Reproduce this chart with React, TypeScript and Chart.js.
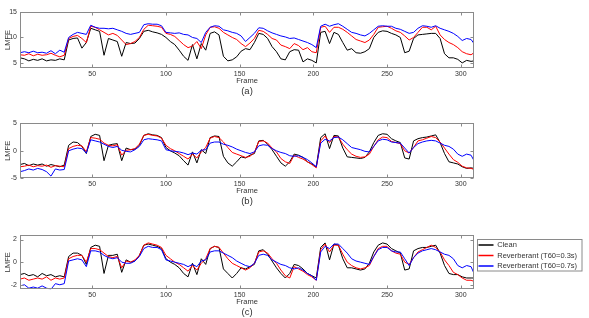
import { useEffect, useRef } from 'react';
import { Chart, registerables } from 'chart.js';

Chart.register(...registerables);

const FONT = "'Liberation Sans', Arial, sans-serif";
const TEXT = '#333333';
const BOX = '#8a8a8a';

const FRAMES = [
  1, 4, 7, 10, 13, 16, 19, 22, 25, 28, 31,
  34, 37, 40, 43, 46, 49, 52, 55, 58, 61,
  64, 67, 70, 73, 76, 79, 82, 85, 88, 91,
  94, 97, 100, 103, 106, 109, 112, 115, 118, 121,
  124, 127, 130, 133, 136, 139, 142, 145, 148, 151,
  154, 157, 160, 163, 166, 169, 172, 175, 178, 181,
  184, 187, 190, 193, 196, 199, 202, 205, 208, 211,
  214, 217, 220, 223, 226, 229, 232, 235, 238, 241,
  244, 247, 250, 253, 256, 259, 262, 265, 268, 271,
  274, 277, 280, 283, 286, 289, 292, 295, 298, 301,
  304, 307, 309,
];

const X_TICKS = [50, 100, 150, 200, 250, 300];
const SERIES_NAMES = ['Clean', 'Reverberant (T60=0.3s)', 'Reverberant (T60=0.7s)'];
const SERIES_COLORS = ['#000000', '#ff0000', '#0000ff'];
const PANEL_LABELS = ['(a)', '(b)', '(c)'];

// ---- panel (a) ----
const A_CLEAN = [
  6.0, 5.8, 5.4, 5.7, 5.5, 5.8, 5.4, 5.6, 5.5, 5.8, 5.6,
  9.5, 9.8, 9.9, 7.9, 9.0, 11.8, 11.5, 11.2, 6.5, 9.8,
  9.5, 9.2, 6.3, 9.0, 8.8, 8.9, 9.8, 11.2, 11.4, 11.1,
  10.9, 10.6, 10.0, 9.2, 8.6, 7.5, 6.3, 5.5, 8.6, 5.8,
  8.8, 7.5, 10.8, 11.1, 10.5, 6.3, 5.4, 5.6, 6.2, 7.3,
  7.8, 7.6, 9.0, 10.8, 10.6, 9.8, 8.2, 7.2, 5.8, 5.6,
  7.2, 7.6, 7.5, 5.2, 5.8, 5.5, 5.0, 11.0, 11.2, 8.8,
  11.0, 10.6, 9.0, 7.5, 7.8, 7.0, 6.9, 7.2, 7.8, 10.0,
  11.0, 11.3, 11.2, 10.8, 10.5, 10.0, 7.0, 7.3, 9.8, 10.5,
  10.6, 10.7, 10.8, 10.8, 9.8, 6.8, 6.0, 6.0, 5.7, 5.0,
  5.5, 5.3, 5.4,
];
const A_T03 = [
  6.6, 6.5, 6.8, 6.4, 6.7, 6.5, 6.6, 6.9, 6.5, 6.2, 6.5,
  9.8, 10.2, 10.4, 9.8, 9.0, 12.2, 12.0, 11.5, 11.0, 10.5,
  10.8, 10.4, 9.5, 8.6, 8.8, 9.2, 10.0, 11.6, 12.4, 12.3,
  12.2, 12.0, 10.8, 10.6, 10.2, 9.4, 8.6, 8.0, 8.3, 9.2,
  7.8, 10.5, 12.0, 12.1, 11.8, 11.0, 10.5, 10.0, 9.6, 8.8,
  8.2, 8.9, 9.8, 11.4, 11.2, 10.6, 9.8, 9.5, 8.5, 8.2,
  7.8, 8.8, 8.4, 7.6, 8.0, 7.2, 7.0, 12.0, 12.2, 11.0,
  12.0, 12.0, 11.6, 11.0, 10.3, 9.6, 9.3, 9.0, 9.5, 10.6,
  12.0, 12.1, 12.2, 11.8, 11.3, 11.0, 10.3, 9.5, 10.0, 11.0,
  12.0, 12.0, 11.5, 12.2, 10.5, 9.6, 9.0, 8.6, 8.0, 7.2,
  6.8, 6.6, 7.0,
];
const A_T07 = [
  7.0, 7.2, 7.0, 7.3, 7.0, 7.1, 6.9, 7.4, 6.8, 7.5, 7.1,
  10.0, 10.6, 11.0, 10.8, 10.6, 12.4, 12.0, 11.8, 11.8, 11.7,
  11.8, 11.5, 11.2, 10.8, 10.6, 10.8, 11.0, 12.5, 12.7, 12.6,
  12.6, 12.3, 11.0, 10.9, 10.8, 10.9, 10.6, 10.5, 10.0, 9.8,
  9.0, 11.0, 12.0, 12.3, 12.2, 11.5, 11.3, 11.0, 10.8, 10.3,
  9.2, 10.0, 10.8, 11.9, 11.8, 11.3, 10.9, 10.6, 10.3, 10.1,
  9.8, 9.9, 9.6, 9.3, 9.0, 8.6, 8.0, 12.2, 12.6, 12.2,
  12.5, 12.7, 12.2, 11.6, 11.0, 10.8, 10.5, 10.3, 10.8, 11.5,
  12.2, 12.3, 12.2, 12.2, 11.8, 11.6, 11.2, 10.8, 11.0, 11.8,
  12.3, 12.2, 12.0, 12.3, 11.8, 11.5, 11.2, 10.8, 10.2, 9.4,
  9.8, 9.6, 8.8,
];

// ---- panel (b) ----
const B_CLEAN = [
  -2.5, -2.3, -2.7, -2.4, -2.6, -2.4, -2.8, -2.5, -2.7, -2.9, -2.6,
  1.0, 1.6, 1.5, 0.8, -0.5, 2.6, 3.0, 2.8, -1.8, 1.0,
  1.2, 1.3, -1.8, 0.5, 0.2, 0.3, 1.0, 2.8, 3.1, 2.9,
  2.8, 2.4, 0.6, 0.0, -0.4, -0.9, -1.8, -2.6, -0.2, -2.2,
  0.2, -0.5, 2.4, 2.7, 2.6, -1.0, -2.2, -2.8, -2.0, -1.1,
  -1.3, -0.8, -0.5, 1.8, 1.9, 1.2, 0.2, -1.0, -2.2, -2.8,
  -2.0, -0.6, -0.8, -1.2, -2.0, -2.4, -2.9, 2.4, 3.1, 0.4,
  2.8, 2.7, 0.5, -1.1, -1.2, -1.3, -1.4, -1.2, -0.2, 1.5,
  2.8, 3.1, 3.0, 2.2, 1.8, 1.5, -1.3, -1.5, 1.8, 2.2,
  2.4, 2.5, 2.7, 2.9, 1.5, -0.5, -2.0, -2.2, -2.4, -2.9,
  -3.2, -3.1, -3.2,
];
const B_T03 = [
  -2.9, -2.8, -2.6, -2.9, -2.7, -2.8, -2.6, -3.0, -2.7, -2.8, -2.9,
  0.4, 0.8, 1.0, 0.9, -0.2, 2.4, 2.3, 2.1, 1.4, 1.0,
  0.9, 1.1, -0.8, 0.1, 0.2, 0.4, 1.2, 2.8, 3.0, 2.8,
  2.7, 2.3, 1.0, 0.4, 0.0, -0.5, -1.0, -1.5, -0.6, -1.3,
  -0.2, 0.6, 2.3, 2.6, 2.4, 1.6, 0.6, -0.3, -0.6, -0.9,
  -1.2, -1.0, -0.3, 1.7, 1.8, 1.4, 0.5, -0.2, -1.4, -2.0,
  -2.3, -0.8, -1.2, -1.5, -2.0, -2.5, -3.1, 1.8, 2.7, 1.5,
  2.6, 2.5, 1.2, 0.2, -0.6, -1.0, -1.2, -1.1, -0.6, 0.8,
  2.0, 2.5, 2.4, 1.7, 1.5, 1.3, 0.0, -0.4, 0.6, 1.8,
  2.0, 2.3, 2.6, 2.4, 1.6, 0.5, -0.6, -1.6, -2.1, -2.8,
  -3.1, -3.2, -3.4,
];
const B_T07 = [
  -3.8, -3.6, -3.3, -3.5, -3.2, -3.4, -3.8, -4.6, -3.3, -3.5, -3.4,
  0.0, 0.3, 0.5, 0.4, -0.4, 2.0, 1.8, 1.6, 1.2, 0.8,
  0.6, 0.8, 0.1, -0.1, -0.2, 0.2, 0.8, 2.0, 2.2, 2.1,
  2.0, 1.8, 0.2, 0.0, -0.1, -0.2, -0.4, -0.7, -0.4, -0.6,
  0.1, 0.2, 1.4, 1.6, 1.6, 1.2, 1.0, 0.7, 0.3, 0.0,
  -0.3, -0.5, -0.2, 0.9, 1.1, 1.0, 0.4, 0.0, -0.3, -0.5,
  -0.9, -1.0, -0.9, -1.2, -1.6, -2.2, -2.9, 1.4, 2.1, 1.8,
  2.4, 2.5, 2.0, 1.3, 0.6, 0.4, 0.2, -0.1, -0.2, 0.8,
  1.8, 2.1, 2.0, 1.6, 1.5, 1.4, 0.5, -0.4, 0.6, 1.3,
  1.6, 1.8, 1.9, 1.8, 1.4, 1.0, 0.8, 0.3, -0.6, -1.0,
  -0.6, -0.8, -1.8,
];

// ---- panel (c) ----
const C_CLEAN = [
  -1.1, -1.0, -1.2, -1.1, -1.3, -1.0, -1.2, -1.1, -1.3, -1.2, -1.3,
  0.5, 0.8, 0.8, 0.6, -0.2, 1.3, 1.5, 1.4, -1.0, 0.6,
  0.6, 0.7, -0.9, 0.2, 0.0, 0.1, 0.6, 1.5, 1.6, 1.5,
  1.4, 1.2, 0.3, 0.0, -0.2, -0.5, -1.0, -1.3, -0.1, -1.1,
  0.3, -0.2, 1.2, 1.4, 1.3, -0.6, -1.0, -1.4, -1.0, -0.5,
  -0.6, -0.4, -0.2, 1.0, 1.1, 0.7, 0.1, -0.5, -1.0, -1.4,
  -1.0, -0.2, -0.3, -0.6, -1.0, -1.2, -1.4, 1.3, 1.7, 0.2,
  1.6, 1.5, 0.3, -0.5, -0.5, -0.6, -0.7, -0.6, -0.1, 0.9,
  1.5, 1.7, 1.6, 1.2, 1.0, 0.8, -0.7, -0.6, 1.0, 1.2,
  1.3, 1.3, 1.4, 1.5, 0.8, -0.3, -1.0, -1.1, -1.1, -1.3,
  -1.4, -1.4, -1.4,
];
const C_T03 = [
  -1.5, -1.4, -1.6, -1.5, -1.4, -1.5, -1.3, -1.6, -1.4, -1.5, -1.4,
  0.3, 0.5, 0.6, 0.6, 0.0, 1.2, 1.2, 1.1, 0.8, 0.5,
  0.4, 0.5, -0.5, 0.1, 0.0, 0.2, 0.6, 1.5, 1.7, 1.6,
  1.5, 1.3, 0.6, 0.3, 0.0, -0.2, -0.5, -0.8, -0.3, -0.7,
  -0.1, 0.3, 1.2, 1.4, 1.3, 0.8, 0.3, -0.1, -0.3, -0.5,
  -0.7, -0.5, -0.1, 0.9, 1.0, 0.8, 0.3, -0.1, -0.7, -1.2,
  -1.4, -0.4, -0.6, -0.8, -1.1, -1.3, -1.6, 1.1, 1.6, 0.9,
  1.5, 1.5, 0.7, 0.0, -0.3, -0.5, -0.6, -0.5, -0.3, 0.5,
  1.2, 1.4, 1.4, 1.0, 0.8, 0.7, 0.0, -0.2, 0.4, 0.9,
  1.1, 1.3, 1.5, 1.3, 0.9, 0.2, -0.3, -0.9, -1.1, -1.4,
  -1.6, -1.6, -1.7,
];
const C_T07 = [
  -2.1, -2.0, -2.3, -2.2, -2.3, -2.1, -2.3, -2.4, -1.9, -2.0, -1.9,
  0.1, 0.2, 0.3, 0.2, -0.4, 1.0, 1.0, 0.9, 0.6, 0.4,
  0.3, 0.4, 0.0, -0.1, -0.1, 0.1, 0.5, 1.2, 1.4, 1.3,
  1.3, 1.1, 0.2, 0.1, 0.0, -0.1, -0.2, -0.4, -0.2, -0.4,
  0.1, 0.2, 0.9, 1.0, 1.0, 0.8, 0.6, 0.4, 0.1, -0.1,
  -0.3, -0.4, -0.1, 0.6, 0.7, 0.6, 0.2, 0.0, -0.2, -0.3,
  -0.5, -0.6, -0.5, -0.7, -1.0, -1.2, -1.6, 0.9, 1.4, 1.2,
  1.6, 1.6, 1.2, 0.8, 0.3, 0.1, 0.0, -0.1, -0.2, 0.5,
  1.1, 1.3, 1.3, 1.0, 0.9, 0.9, 0.3, -0.3, 0.4, 0.8,
  1.0, 1.1, 1.2, 1.1, 0.9, 0.7, 0.6, 0.3, -0.3, -0.5,
  -0.3, -0.4, -1.0,
];

const A_Y_TICKS = [5, 10, 15];
const B_Y_TICKS = [-5, 0, 5];
const C_Y_TICKS = [-2, 0, 2];

const boxPlugin = {
  id: 'matlabBox',
  afterLayout(chart: any) {
    const lg = chart.legend;
    if (!lg || !chart.options.plugins.legend.display) return;
    lg.left = 475.5;
    lg.top = 19.3;
    lg.width = 110;
    lg.height = 40;
    lg.right = lg.left + 110;
    lg.bottom = lg.top + 40;
  },
  afterDraw(chart: any) {
    const { ctx, chartArea: a, scales } = chart;
    ctx.save();
    ctx.strokeStyle = BOX;
    ctx.lineWidth = 1;
    const l = Math.round(a.left) + 0.5;
    const r = Math.round(a.right) - 0.5;
    const t = Math.round(a.top) + 0.5;
    const b = Math.round(a.bottom) - 0.5;
    ctx.strokeRect(l, t, r - l, b - t);
    ctx.beginPath();
    scales.x.ticks.forEach((tk: any) => {
      const x = Math.round(scales.x.getPixelForValue(tk.value)) + 0.5;
      ctx.moveTo(x, b);
      ctx.lineTo(x, b - 3);
      ctx.moveTo(x, t);
      ctx.lineTo(x, t + 3);
    });
    scales.y.ticks.forEach((tk: any) => {
      const y = Math.round(scales.y.getPixelForValue(tk.value)) + 0.5;
      ctx.moveTo(l, y);
      ctx.lineTo(l + 3, y);
      ctx.moveTo(r, y);
      ctx.lineTo(r - 3, y);
    });
    ctx.stroke();
    if (chart.options.plugins.legend.display) {
      ctx.strokeRect(477.5, 20.5, 104.5, 31.5);
    }
    ctx.restore();
  },
};

type PanelProps = {
  top: number;
  height: number;
  plotTop: number;
  plotBottom: number;
  yMin: number;
  yMax: number;
  yTicks: number[];
  series: number[][];
  label: string;
  legend?: boolean;
};

function Panel(p: PanelProps) {
  const ref = useRef<HTMLCanvasElement>(null);
  useEffect(() => {
    const canvas = ref.current;
    if (!canvas) return;
    const titleTop = p.height - 12;
    const chart = new Chart(canvas, {
      type: 'line',
      data: {
        datasets: p.series.map((vals, i) => ({
          label: SERIES_NAMES[i],
          data: vals.map((v, j) => ({ x: FRAMES[j], y: v })),
          borderColor: SERIES_COLORS[i],
          backgroundColor: SERIES_COLORS[i],
          borderWidth: 1,
          pointRadius: 0,
          tension: 0,
          order: 3 - i,
        })),
      },
      options: {
        responsive: false,
        animation: false,
        devicePixelRatio: 1,
        events: [],
        layout: { padding: { left: 0, right: 589 - 474, top: p.plotTop, bottom: 0 } },
        scales: {
          x: {
            type: 'linear',
            min: 1,
            max: 309,
            grid: { display: false, drawTicks: false, tickLength: 0 },
            border: { display: false },
            ticks: { font: { size: 7, family: FONT }, color: TEXT, padding: 2, maxRotation: 0 },
            afterBuildTicks: (s: any) => {
              s.ticks = X_TICKS.map((v) => ({ value: v }));
            },
            afterFit: (s: any) => {
              s.height = titleTop - p.plotBottom;
            },
            title: {
              display: true,
              text: 'Frame',
              font: { size: 7.5, family: FONT, lineHeight: '9px' },
              color: TEXT,
              padding: 0,
            },
          },
          y: {
            type: 'linear',
            min: p.yMin,
            max: p.yMax,
            grid: { display: false, drawTicks: false, tickLength: 0 },
            border: { display: false },
            ticks: { font: { size: 7, family: FONT }, color: TEXT, padding: 3 },
            afterBuildTicks: (s: any) => {
              s.ticks = p.yTicks.map((v) => ({ value: v }));
            },
            afterFit: (s: any) => {
              s.width = 20;
            },
            title: {
              display: true,
              text: 'LMFE',
              font: { size: 7.5, family: FONT, lineHeight: '9px' },
              color: TEXT,
              padding: { top: 3.5, bottom: 0 },
            },
          },
        },
        plugins: {
          legend: p.legend
            ? {
                display: true,
                position: 'chartArea',
                align: 'start',
                labels: {
                  usePointStyle: true,
                  pointStyle: 'line',
                  pointStyleWidth: 15,
                  padding: 3,
                  color: TEXT,
                  font: { size: 7.5, family: FONT },
                  sort: (a: any, b: any) => a.datasetIndex - b.datasetIndex,
                  generateLabels: (c: any) =>
                    (Chart.defaults.plugins.legend.labels as any)
                      .generateLabels(c)
                      .map((l: any) => ({ ...l, lineWidth: 1.5, pointStyle: 'line' })),
                },
              }
            : { display: false },
          title: {
            display: true,
            text: p.label,
            position: 'bottom',
            fullSize: false,
            padding: 0,
            color: TEXT,
            font: { size: 9.5, family: FONT, weight: 'normal', lineHeight: '12px' },
          },
          tooltip: { enabled: false },
        },
      } as any,
      plugins: [boxPlugin],
    });
    return () => chart.destroy();
  }, []);
  return (
    <canvas
      ref={ref}
      width={589}
      height={p.height}
      style={{ position: 'absolute', left: 0, top: p.top, width: 589, height: p.height }}
    />
  );
}

export default function App() {
  return (
    <div
      style={{
        position: 'absolute',
        left: 0,
        top: 0,
        width: 589,
        height: 318,
        overflow: 'hidden',
        background: '#ffffff',
      }}
    >
      <Panel top={0} height={97} plotTop={12} plotBottom={68} yMin={4} yMax={15} yTicks={A_Y_TICKS}
        series={[A_CLEAN, A_T03, A_T07]} label={PANEL_LABELS[0]} />
      <Panel top={108} height={99} plotTop={15.3} plotBottom={70.3} yMin={-5} yMax={5} yTicks={B_Y_TICKS}
        series={[B_CLEAN, B_T03, B_T07]} label={PANEL_LABELS[1]} />
      <Panel top={219} height={99} plotTop={16} plotBottom={70.3} yMin={-2.4} yMax={2.4} yTicks={C_Y_TICKS}
        series={[C_CLEAN, C_T03, C_T07]} label={PANEL_LABELS[2]} legend />
    </div>
  );
}
